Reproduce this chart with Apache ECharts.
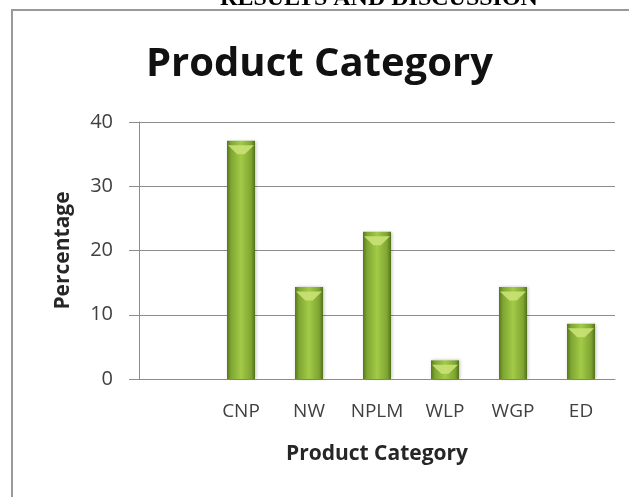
<!DOCTYPE html>
<html>
<head>
<meta charset="utf-8">
<script src="https://cdn.jsdelivr.net/npm/echarts@6/dist/echarts.min.js"></script>
<style>
  html, body { margin: 0; padding: 0; background: #ffffff; }
  #chart { width: 629px; height: 497px; }
</style>
</head>
<body>
<div id="chart"></div>
<script>
// Share of products in each category (first slot left empty as a spacer)
const categories = ['', 'CNP', 'NW', 'NPLM', 'WLP', 'WGP', 'ED'];
const percentages = [null, 37.1, 14.3, 22.9, 2.9, 14.3, 8.6];
const yTicks = [0, 10, 20, 30, 40];

const FONT = '"Open Sans", Lato, sans-serif';

const chart = echarts.init(document.getElementById('chart'));

const bodyGradient = new echarts.graphic.LinearGradient(0, 0, 1, 0, [
  { offset: 0, color: '#56761b' },
  { offset: 0.14, color: '#7ea532' },
  { offset: 0.5, color: '#a3cb46' },
  { offset: 0.86, color: '#7ea532' },
  { offset: 1, color: '#52711a' }
]);

chart.setOption({
  backgroundColor: '#ffffff',
  animation: false,
  title: {
    text: 'Product Category',
    left: 146,
    top: 45,
    padding: 0,
    textStyle: { fontFamily: FONT, fontSize: 40, fontWeight: 'bold', color: '#111111' }
  },
  graphic: [
    {
      type: 'text',
      style: {
        text: 'RESULTS AND DISCUSSION',
        x: 379,
        y: 11,
        align: 'center',
        verticalAlign: 'bottom',
        font: 'bold 24px "Liberation Serif", "DejaVu Serif", serif',
        fill: '#000000'
      }
    },
    // chart frame (top and left edges)
    {
      type: 'polyline',
      shape: { points: [[12, 497], [12, 10], [629, 10]] },
      style: { stroke: '#9a9a9a', lineWidth: 2, fill: null }
    }
  ],
  grid: { left: 139, right: 14, top: 122, bottom: 118 },
  xAxis: {
    type: 'category',
    data: categories,
    name: 'Product Category',
    nameLocation: 'middle',
    nameGap: 65,
    nameTextStyle: { fontFamily: FONT, fontSize: 21, fontWeight: 'bold', color: '#262626' },
    axisLine: { show: true, lineStyle: { color: '#8c8c8c', width: 1 } },
    axisTick: { show: false },
    axisLabel: { interval: 0, fontFamily: FONT, fontSize: 19, color: '#404040', margin: 23 }
  },
  yAxis: {
    type: 'value',
    min: yTicks[0],
    max: yTicks[yTicks.length - 1],
    interval: 10,
    name: 'Percentage',
    nameLocation: 'middle',
    nameGap: 65,
    nameTextStyle: { fontFamily: FONT, fontSize: 21, fontWeight: 'bold', color: '#262626' },
    axisLine: { show: true, lineStyle: { color: '#8c8c8c', width: 1 } },
    axisTick: { show: true, length: 10, lineStyle: { color: '#8c8c8c' } },
    axisLabel: { fontFamily: FONT, fontSize: 20, color: '#404040', margin: 26 },
    splitLine: { show: true, lineStyle: { color: '#8c8c8c', width: 1 } }
  },
  series: [
    {
      type: 'bar',
      data: percentages,
      barWidth: 28,
      itemStyle: {
        color: bodyGradient,
        shadowColor: 'rgba(0,0,0,0.25)',
        shadowBlur: 3,
        shadowOffsetX: 1
      }
    },
    {
      // light cap on the top of each bar
      type: 'pictorialBar',
      data: percentages,
      symbol: 'path://M0,0 L28,0 L18,9 L10,9 Z',
      symbolSize: [26, 9],
      symbolPosition: 'end',
      symbolOffset: [0, '50%'],
      z: 3,
      itemStyle: { color: '#c9e274', opacity: 0.9 }
    }
  ]
});
</script>
</body>
</html>
